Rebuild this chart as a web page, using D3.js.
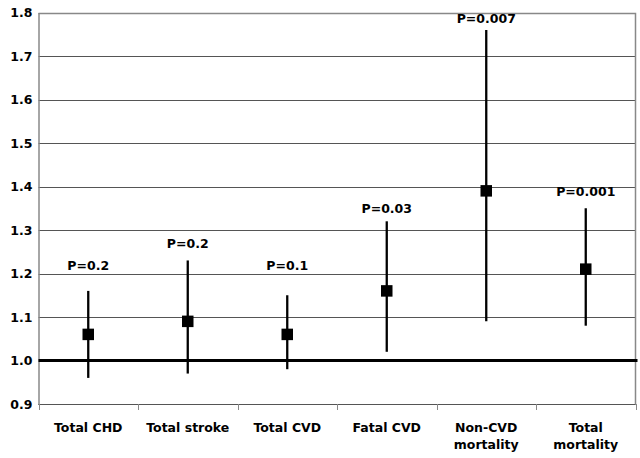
<!DOCTYPE html>
<html><head><meta charset="utf-8">
<script src="https://cdn.jsdelivr.net/npm/d3@7"></script>
<style>
html,body{margin:0;padding:0;background:#fff;}
svg{display:block;font-family:"DejaVu Sans",Verdana,sans-serif;font-weight:bold;}
</style></head>
<body><svg id="c" width="640" height="458"></svg>
<script>
const categories = [["Total CHD"],["Total stroke"],["Total CVD"],["Fatal CVD"],["Non-CVD","mortality"],["Total","mortality"]];
const estimate = [1.06, 1.09, 1.06, 1.16, 1.39, 1.21];
const lower    = [0.96, 0.97, 0.98, 1.02, 1.09, 1.08];
const upper    = [1.16, 1.23, 1.15, 1.32, 1.76, 1.35];
const pLabels  = ["P=0.2","P=0.2","P=0.1","P=0.03","P=0.007","P=0.001"];
const pLabelAt = [1.218, 1.268, 1.218, 1.35, 1.787, 1.388];
const yTicks   = [0.9,1.0,1.1,1.2,1.3,1.4,1.5,1.6,1.7,1.8];

const svg = d3.select("#c");
const pL = 38.5, pR = 635.5, pT = 12.5, pB = 404;
const idx = categories.map((d,i)=>i);
const x = d3.scaleBand().domain(idx).range([pL,pR]);
const y = d3.scaleLinear().domain([0.9,1.8]).range([pB,pT]);

// gridlines
svg.append("g").selectAll("line").data(yTicks.filter(v=>v!==1.0 && v!==1.8)).join("line")
  .attr("x1",pL).attr("x2",pR)
  .attr("y1",d=>Math.round(y(d))+0.5).attr("y2",d=>Math.round(y(d))+0.5)
  .attr("stroke","#555").attr("stroke-width",1);

// border top and right
svg.append("path")
  .attr("d",`M${pL},${Math.round(y(1.8))+0.5}H${pR}V${pB}`)
  .attr("fill","none").attr("stroke","#888").attr("stroke-width",1.5);

// left axis
const yAxis = d3.axisLeft(y).tickValues(yTicks).tickFormat(d3.format(".1f")).tickSize(0).tickPadding(6);
const ga = svg.append("g").attr("transform",`translate(${pL},0)`).call(yAxis);
ga.select(".domain").attr("stroke","#888").attr("stroke-width",1.5);
ga.selectAll("text").attr("font-size","12.5px").attr("font-family","DejaVu Sans").attr("font-weight","bold").attr("fill","#000");

// bottom axis with ticks at category boundaries
const bounds = d3.range(categories.length+1).map(i=>pL + i*x.step());
svg.append("line").attr("x1",pL).attr("x2",pR).attr("y1",Math.round(pB)+0.5).attr("y2",Math.round(pB)+0.5)
  .attr("stroke","#555").attr("stroke-width",1);
svg.append("g").selectAll("line").data(bounds).join("line")
  .attr("x1",d=>Math.round(d)+0.5).attr("x2",d=>Math.round(d)+0.5)
  .attr("y1",pB).attr("y2",pB+6).attr("stroke","#888").attr("stroke-width",1);

// category labels
const cl = svg.append("g").selectAll("text").data(idx).join("text")
  .attr("x",i=>x(i)+x.bandwidth()/2).attr("y",432)
  .attr("text-anchor","middle").attr("font-size","12.5px").attr("fill","#000");
cl.selectAll("tspan").data(i=>categories[i]).join("tspan")
  .attr("x",function(){return this.parentNode.getAttribute("x");})
  .attr("dy",(d,j)=>j===0?0:17).text(d=>d);

// baseline at 1.0
svg.append("line").attr("x1",pL).attr("x2",pR+2).attr("y1",y(1.0)).attr("y2",y(1.0))
  .attr("stroke","#000").attr("stroke-width",3);

// whiskers
svg.append("g").selectAll("line").data(idx).join("line")
  .attr("x1",i=>x(i)+x.bandwidth()/2).attr("x2",i=>x(i)+x.bandwidth()/2)
  .attr("y1",i=>y(lower[i])).attr("y2",i=>y(upper[i]))
  .attr("stroke","#000").attr("stroke-width",2.3);

// markers
const ms = 11.5;
svg.append("g").selectAll("rect").data(idx).join("rect")
  .attr("x",i=>x(i)+x.bandwidth()/2-ms/2).attr("y",i=>y(estimate[i])-ms/2)
  .attr("width",ms).attr("height",ms).attr("fill","#000");

// p labels
svg.append("g").selectAll("text").data(idx).join("text")
  .attr("x",i=>x(i)+x.bandwidth()/2).attr("y",i=>y(pLabelAt[i])+4.5)
  .attr("text-anchor","middle").attr("font-size","12.5px").attr("fill","#000")
  .text(i=>pLabels[i]);
</script></body></html>
